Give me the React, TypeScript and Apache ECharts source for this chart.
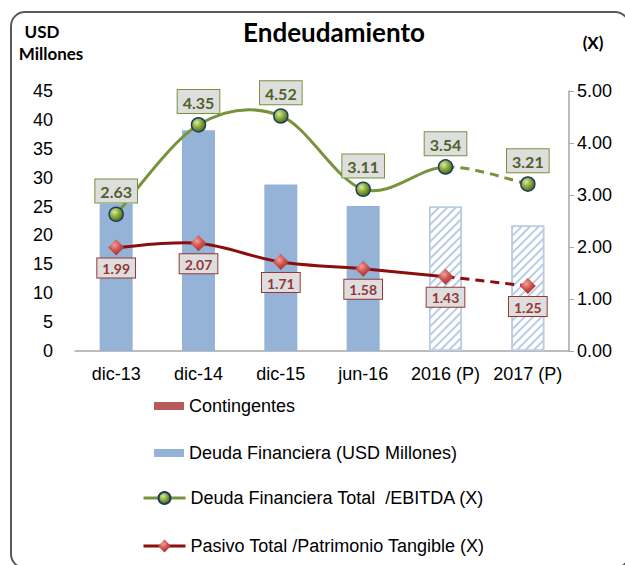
import React, { useEffect, useRef } from "react";
import * as echarts from "echarts";

const categories = ["dic-13", "dic-14", "dic-15", "jun-16", "2016 (P)", "2017 (P)"];
const contingentes = [0, 0, 0, 0, 0, 0];
const deudaFinanciera = [25.5, 38.2, 28.8, 25.1, 25.0, 21.7];
const projected = [false, false, false, false, true, true];
const deudaEbitda = [2.63, 4.35, 4.52, 3.11, 3.54, 3.21];
const pasivoPatrimonio = [1.99, 2.07, 1.71, 1.58, 1.43, 1.25];
const leftTicks = { min: 0, max: 45, interval: 5 };
const rightTicks = { min: 0, max: 5, interval: 1 };
const firstProjectedIndex = 4;

const names = {
  cont: "Contingentes",
  deuda: "Deuda Financiera (USD Millones)",
  ebitda: "Deuda Financiera Total  /EBITDA (X)",
  pasivo: "Pasivo Total /Patrimonio Tangible (X)",
};

const FONT = "'Liberation Sans', Arial, sans-serif";
const BOLD = "Lato, 'Open Sans', sans-serif";
const GREEN = "#77933C";
const RED = "#8B0D0D";

// Excel-like smoothed line (Catmull-Rom -> cubic Bezier) drawn via a custom series
function smoothRenderer(values: number[], color: string) {
  return (params: any, api: any) => {
    if (params.dataIndex !== 0) return null;
    const pts = values.map((v, i) => api.coord([i, v]));
    const seg = (i: number) => {
      const p0 = pts[Math.max(i - 1, 0)];
      const p1 = pts[i];
      const p2 = pts[i + 1];
      const p3 = pts[Math.min(i + 2, pts.length - 1)];
      const c1 = [p1[0] + (p2[0] - p0[0]) / 6, p1[1] + (p2[1] - p0[1]) / 6];
      const c2 = [p2[0] - (p3[0] - p1[0]) / 6, p2[1] - (p3[1] - p1[1]) / 6];
      return `C${c1[0]},${c1[1]} ${c2[0]},${c2[1]} ${p2[0]},${p2[1]}`;
    };
    let solid = `M${pts[0][0]},${pts[0][1]}`;
    for (let i = 0; i < firstProjectedIndex; i++) solid += seg(i);
    let dashed = `M${pts[firstProjectedIndex][0]},${pts[firstProjectedIndex][1]}`;
    for (let i = firstProjectedIndex; i < pts.length - 1; i++) dashed += seg(i);
    return {
      type: "group",
      children: [
        { type: "path", shape: { pathData: solid }, style: { fill: "none", stroke: color, lineWidth: 3 } },
        { type: "path", shape: { pathData: dashed }, style: { fill: "none", stroke: color, lineWidth: 3, lineDash: [9, 6] } },
      ],
    };
  };
}

export default function App() {
  const ref = useRef<HTMLDivElement>(null);
  useEffect(() => {
    if (!ref.current) return;
    const chart = echarts.init(ref.current, null, { renderer: "svg" });
    const greenSym = {
      type: "radial", x: 0.38, y: 0.35, r: 0.7,
      colorStops: [
        { offset: 0, color: "#DCE8B0" },
        { offset: 0.45, color: "#8DB03C" },
        { offset: 1, color: "#4A6318" },
      ],
    };
    const redSym = {
      type: "radial", x: 0.4, y: 0.35, r: 0.7,
      colorStops: [
        { offset: 0, color: "#F0A09C" },
        { offset: 0.5, color: "#CF4E49" },
        { offset: 1, color: "#943431" },
      ],
    };
    const greenLabel = {
      show: true, position: "top", distance: 4,
      formatter: (p: any) => Number(p.value).toFixed(2),
      fontFamily: BOLD, fontWeight: "bold", fontSize: 16, color: "#4F6228",
      backgroundColor: "#DEDEDE", borderColor: GREEN, borderWidth: 1,
      padding: [4, 5, 3, 5],
    };
    const redLabel = {
      show: true, position: "bottom", distance: 3,
      formatter: (p: any) => Number(p.value).toFixed(2),
      fontFamily: BOLD, fontWeight: "bold", fontSize: 14, color: "#953735",
      backgroundColor: "#DEDEDE", borderColor: "#953735", borderWidth: 1,
      padding: [3, 5, 2, 5],
    };
    const hatch = {
      color: "#FFFFFF", borderColor: "#B8CCE4", borderWidth: 1.5,
      decal: {
        symbol: "rect", symbolSize: 1, color: "#B8CCE4",
        dashArrayX: [1, 0], dashArrayY: [1.5, 3.5], rotation: -Math.PI / 4,
      },
    };
    const legendBase = {
      orient: "vertical",
      padding: 0,
      textStyle: { fontFamily: FONT, fontSize: 18, color: "#000", lineHeight: 22 },
      selectedMode: false,
    };
    chart.setOption({
      animation: false,
      grid: { left: 75, right: 56, top: 91, bottom: 214 },
      legend: [
        { ...legendBase, left: 154, top: 395, itemWidth: 30, itemHeight: 8, icon: "rect", data: [names.cont] },
        { ...legendBase, left: 154, top: 442, itemWidth: 30, itemHeight: 8, icon: "rect", data: [names.deuda] },
        {
          ...legendBase, left: 142, top: 487, itemWidth: 42, itemHeight: 15,
          lineStyle: { color: GREEN, width: 3, opacity: 1 },
          data: [names.ebitda],
        },
        {
          ...legendBase, left: 142, top: 535, itemWidth: 42, itemHeight: 16,
          lineStyle: { color: RED, width: 3, opacity: 1 },
          data: [names.pasivo],
        },
      ],
      xAxis: {
        type: "category", data: categories, boundaryGap: true,
        axisLine: { lineStyle: { color: "#A6A6A6", width: 1.5 } },
        axisTick: { show: false },
        axisLabel: { fontFamily: FONT, fontSize: 18, color: "#000", margin: 14, interval: 0 },
      },
      yAxis: [
        {
          type: "value", ...leftTicks,
          axisLine: { show: false }, axisTick: { show: false }, splitLine: { show: false },
          axisLabel: { fontFamily: FONT, fontSize: 18, color: "#000", margin: 22 },
        },
        {
          type: "value", ...rightTicks, position: "right",
          axisLine: { show: true, lineStyle: { color: "#A6A6A6", width: 1.5 } },
          axisTick: { show: true, inside: false, length: 5, lineStyle: { color: "#A6A6A6" } },
          splitLine: { show: false },
          axisLabel: { fontFamily: FONT, fontSize: 18, color: "#000", margin: 8, formatter: (v: number) => v.toFixed(2) },
        },
      ],
      series: [
        {
          name: names.cont, type: "bar", stack: "a", barWidth: 33,
          itemStyle: { color: "#B65B58" }, data: contingentes,
        },
        {
          name: names.deuda, type: "bar", stack: "a", barWidth: 33,
          itemStyle: { color: "#95B3D7" },
          data: deudaFinanciera.map((v, i) => (projected[i] ? { value: v, itemStyle: hatch } : v)),
        },
        {
          type: "custom", yAxisIndex: 1, z: 3, silent: true,
          renderItem: smoothRenderer(deudaEbitda, GREEN),
          data: deudaEbitda.map((v, i) => [i, v]),
          encode: { x: 0, y: 1 },
        },
        {
          type: "custom", yAxisIndex: 1, z: 3, silent: true,
          renderItem: smoothRenderer(pasivoPatrimonio, RED),
          data: pasivoPatrimonio.map((v, i) => [i, v]),
          encode: { x: 0, y: 1 },
        },
        {
          name: names.ebitda, type: "line", yAxisIndex: 1,
          symbol: "circle", symbolSize: 14, z: 5,
          lineStyle: { color: GREEN, width: 3, opacity: 0 },
          itemStyle: { color: greenSym, borderColor: "#1F3B63", borderWidth: 1.5 },
          label: greenLabel,
          data: deudaEbitda,
        },
        {
          name: names.pasivo, type: "line", yAxisIndex: 1,
          symbol: "diamond", symbolSize: 16, z: 5,
          lineStyle: { color: RED, width: 3, opacity: 0 },
          itemStyle: { color: redSym },
          label: redLabel,
          data: pasivoPatrimonio,
        },
      ],
      graphic: [
        {
          type: "rect", z: -10, silent: true,
          shape: { x: 11, y: 12, width: 618, height: 556, r: 14 },
          style: { fill: "none", stroke: "#595959", lineWidth: 2 },
        },
        {
          type: "text", x: 334, y: 32,
          style: { text: "Endeudamiento", fontFamily: BOLD, fontWeight: "bold", fontSize: 26, fill: "#000", textAlign: "center", textVerticalAlign: "middle" },
        },
        {
          type: "text", x: 42, y: 31,
          style: { text: "USD", fontFamily: BOLD, fontWeight: "bold", fontSize: 17, fill: "#000", textAlign: "center", textVerticalAlign: "middle" },
        },
        {
          type: "text", x: 51, y: 53,
          style: { text: "Millones", fontFamily: BOLD, fontWeight: "bold", fontSize: 17, fill: "#000", textAlign: "center", textVerticalAlign: "middle" },
        },
        {
          type: "text", x: 593, y: 42,
          style: { text: "(X)", fontFamily: BOLD, fontWeight: "bold", fontSize: 17, fill: "#000", textAlign: "center", textVerticalAlign: "middle" },
        },
      ],
    });
    return () => chart.dispose();
  }, []);
  return (
    <div
      ref={ref}
      style={{ position: "absolute", left: 0, top: 0, width: 625, height: 565, background: "#fff" }}
    />
  );
}
